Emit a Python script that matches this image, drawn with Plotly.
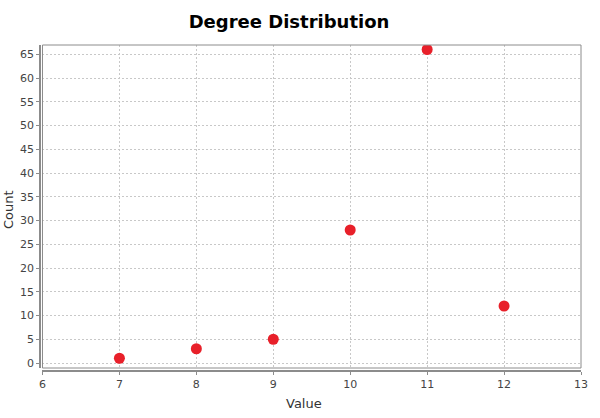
import plotly.graph_objects as go

values = [7, 8, 9, 10, 11, 12]
counts = [1, 3, 5, 28, 66, 12]
x_ticks = [6, 7, 8, 9, 10, 11, 12, 13]
y_ticks = list(range(0, 70, 5))

W, H = 600, 418
ml, mr, mt, mb = 40, 17, 45, 47
pw = W - ml - mr
ph = H - mt - mb

fig = go.Figure()
fig.add_trace(go.Scatter(
    x=values, y=counts, mode="markers",
    marker=dict(size=11, color="#e8202a", line=dict(width=0)),
    showlegend=False, hoverinfo="x+y",
))

font_family = "Tahoma, DejaVu Sans, sans-serif"
grid = dict(showgrid=True, gridcolor="#c8c8c8", griddash="2px,2px", gridwidth=1)
fig.update_layout(
    width=W, height=H,
    margin=dict(l=ml, r=mr, t=mt, b=mb, pad=0),
    paper_bgcolor="white", plot_bgcolor="white",
    title=dict(text="<b>Degree Distribution</b>", x=289 / W, xanchor="center",
               y=1 - 22 / H, yanchor="middle", yref="container",
               font=dict(family=font_family, size=18, color="black")),
    xaxis=dict(
        range=[6, 13], tickvals=x_ticks, ticktext=[str(v) for v in x_ticks],
        domain=[2.5 / pw, 1], anchor="free", position=0,
        showline=True, linecolor="#8c8c8c", linewidth=1.5,
        ticks="outside", ticklen=3, tickcolor="#8c8c8c",
        zeroline=False,
        tickfont=dict(family=font_family, size=11, color="#444444"),
        **grid,
    ),
    yaxis=dict(
        range=[-1.05, 66.95], tickvals=y_ticks, ticktext=[str(v) for v in y_ticks],
        domain=[3 / ph, 1], anchor="free", position=0,
        showline=True, linecolor="#8c8c8c", linewidth=1.5,
        ticks="outside", ticklen=3, tickcolor="#8c8c8c",
        zeroline=False,
        tickfont=dict(family=font_family, size=11, color="#444444"),
        **grid,
    ),
    shapes=[dict(type="rect", xref="x domain", yref="y domain",
                 x0=0, x1=1, y0=0, y1=1,
                 line=dict(color="#8c8c8c", width=1), layer="above")],
    annotations=[
        dict(text="Value", xref="paper", yref="paper", x=(305 - ml) / pw,
             y=-(403 - (H - mb)) / ph, xanchor="center", yanchor="middle",
             showarrow=False, font=dict(family=font_family, size=13, color="#333333")),
        dict(text="Count", xref="paper", yref="paper", x=-(ml - 8) / pw,
             y=(H - mb - 210) / ph, xanchor="center", yanchor="middle",
             textangle=-90, showarrow=False,
             font=dict(family=font_family, size=13, color="#333333")),
    ],
)

fig.write_html("out.html")
